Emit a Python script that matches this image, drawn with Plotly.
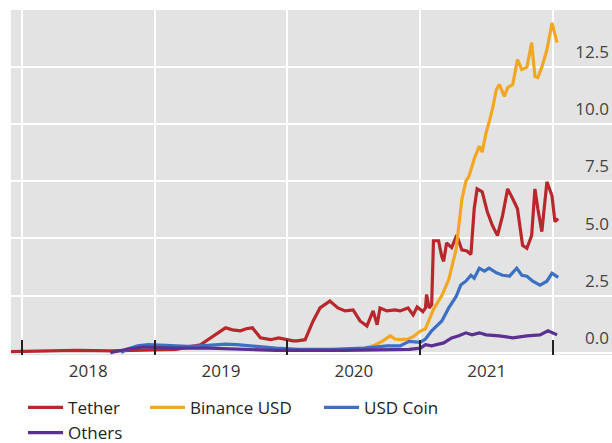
import plotly.graph_objects as go

# ---------------- data (USD bn) ----------------
tether_dates = ["2017-12-02", "2018-03-01", "2018-06-01", "2018-09-01", "2018-12-01", "2019-03-01",
                "2019-05-07", "2019-06-23", "2019-07-15", "2019-08-03", "2019-08-25", "2019-09-10",
                "2019-09-27", "2019-10-19", "2019-11-16", "2019-12-08", "2020-01-17", "2020-01-28",
                "2020-02-19", "2020-03-12", "2020-03-31", "2020-04-27", "2020-05-19", "2020-06-08",
                "2020-06-30", "2020-07-19", "2020-08-07", "2020-08-24", "2020-09-04", "2020-09-12",
                "2020-10-01", "2020-10-23", "2020-11-06", "2020-11-28", "2020-12-12", "2020-12-23",
                "2021-01-08", "2021-01-15", "2021-01-18", "2021-01-25", "2021-02-01", "2021-02-06",
                "2021-02-20", "2021-03-01", "2021-03-06", "2021-03-14", "2021-03-28", "2021-04-11",
                "2021-04-25", "2021-05-09", "2021-05-20", "2021-05-29", "2021-06-06", "2021-06-20",
                "2021-07-04", "2021-07-18", "2021-08-01", "2021-08-15", "2021-08-29", "2021-09-12",
                "2021-09-25", "2021-10-09", "2021-10-21", "2021-11-03", "2021-11-12", "2021-11-20",
                "2021-12-01", "2021-12-15", "2021-12-29", "2022-01-06", "2022-01-15"]
tether_vals = [0.05, 0.08, 0.1, 0.08, 0.1, 0.15,
               0.35, 0.87, 1.09, 1.0, 0.96, 1.05,
               1.09, 0.65, 0.57, 0.65, 0.52, 0.52,
               0.57, 1.39, 1.96, 2.26, 1.96, 1.83,
               1.87, 1.39, 1.17, 1.83, 1.22, 1.96,
               1.83, 1.87, 1.83, 1.96, 1.65, 2.0,
               1.8, 1.96, 2.55, 1.96, 2.1, 4.9,
               4.9, 4.2, 4.0, 4.8, 4.6, 5.15,
               4.5, 4.45, 4.3, 6.3, 7.17, 7.04,
               6.17, 5.57, 5.13, 6.0, 7.17, 6.74,
               6.3, 4.7, 4.57, 5.13, 7.17, 6.3,
               5.3, 7.48, 6.87, 5.74, 5.87]

binance_dates = ["2020-06-01", "2020-08-01", "2020-08-24", "2020-09-20", "2020-10-10",
                 "2020-10-23", "2020-11-06", "2020-11-28", "2020-12-12", "2021-01-01", "2021-01-15",
                 "2021-02-06", "2021-03-01", "2021-03-20", "2021-04-09", "2021-04-17", "2021-04-25",
                 "2021-05-06", "2021-05-15", "2021-05-29", "2021-06-12", "2021-06-20", "2021-07-01",
                 "2021-07-09", "2021-07-18", "2021-07-29", "2021-08-06", "2021-08-20", "2021-08-29",
                 "2021-09-12", "2021-09-25", "2021-10-07", "2021-10-21", "2021-11-03", "2021-11-12",
                 "2021-11-20", "2021-12-01", "2021-12-15", "2021-12-29", "2022-01-12"]
binance_vals = [0.15, 0.2, 0.3, 0.52, 0.74,
                0.6, 0.57, 0.6, 0.7, 0.95, 1.05,
                1.9, 2.5, 3.2, 4.5, 5.6, 6.7,
                7.5, 7.74, 8.48, 9.04, 8.78, 9.65,
                10.09, 10.65, 11.52, 11.74, 11.22, 11.6,
                11.74, 12.83, 12.39, 12.5, 13.57, 12.09,
                12.04, 12.5, 13.26, 14.43, 13.57]

usdc_dates = ["2018-10-01", "2018-10-17", "2018-11-15", "2018-12-15", "2019-01-15", "2019-02-20",
              "2019-04-01", "2019-05-07", "2019-06-15", "2019-07-15", "2019-08-15", "2019-09-15",
              "2019-10-19", "2019-12-01", "2020-02-01", "2020-05-01", "2020-08-01", "2020-10-01",
              "2020-11-06", "2020-12-01", "2021-01-01", "2021-01-15", "2021-02-01", "2021-03-01",
              "2021-03-20", "2021-04-09", "2021-04-22", "2021-05-06", "2021-05-20", "2021-05-29",
              "2021-06-12", "2021-06-26", "2021-07-09", "2021-07-29", "2021-08-15", "2021-09-03",
              "2021-09-23", "2021-10-07", "2021-10-21", "2021-11-06", "2021-11-26", "2021-12-15",
              "2021-12-29", "2022-01-15"]
usdc_vals = [0.0, 0.15, 0.3, 0.35, 0.33, 0.3,
             0.28, 0.3, 0.35, 0.38, 0.35, 0.3,
             0.25, 0.2, 0.15, 0.15, 0.2, 0.3,
             0.3, 0.5, 0.45, 0.6, 0.96, 1.39,
             1.96, 2.45, 2.96, 3.13, 3.39, 3.26,
             3.7, 3.57, 3.7, 3.5, 3.39, 3.35,
             3.7, 3.39, 3.35, 3.13, 2.96, 3.13,
             3.48, 3.3]

others_dates = ["2018-09-01", "2018-10-17", "2018-12-01", "2019-03-01", "2019-06-01", "2019-09-01",
                "2019-12-01", "2020-06-01", "2020-12-01", "2021-01-01", "2021-01-15", "2021-02-01",
                "2021-03-06", "2021-03-28", "2021-04-17", "2021-05-06", "2021-05-23", "2021-06-12",
                "2021-07-01", "2021-08-06", "2021-09-12", "2021-10-21", "2021-11-26", "2021-12-18",
                "2022-01-12"]
others_vals = [0.0, 0.15, 0.25, 0.2, 0.2, 0.15,
               0.1, 0.1, 0.15, 0.2, 0.35, 0.3,
               0.43, 0.65, 0.74, 0.87, 0.78, 0.87,
               0.78, 0.74, 0.65, 0.74, 0.78, 0.96,
               0.78]

y_ticks = [0, 2.5, 5, 7.5, 10, 12.5]

series = [
    ("Tether", tether_dates, tether_vals, "#b8272c", "legend"),
    ("Binance USD", binance_dates, binance_vals, "#f2a722", "legend2"),
    ("USD Coin", usdc_dates, usdc_vals, "#3b70c2", "legend3"),
    ("Others", others_dates, others_vals, "#5a3090", "legend4"),
]

fig = go.Figure()
for name, d, v, c, lg in series:
    fig.add_trace(go.Scatter(x=d, y=v, name=name, mode="lines", legend=lg,
                             line=dict(color=c, width=3.2)))

FONT = "Open Sans, Noto Sans, sans-serif"
leg_common = dict(orientation="h", xanchor="left", yanchor="top",
                  font=dict(size=17, color="#222222"), bgcolor="rgba(0,0,0,0)",
                  itemwidth=35)
fig.update_layout(
    width=612, height=443,
    margin=dict(l=11, r=0, t=10, b=88, autoexpand=False),
    paper_bgcolor="white",
    plot_bgcolor="#e3e3e3",
    font=dict(family=FONT, size=17, color="#333333"),
    showlegend=True,
    legend=dict(x=0.02, y=-0.101, **leg_common),
    legend2=dict(x=0.223, y=-0.101, **leg_common),
    legend3=dict(x=0.5125, y=-0.101, **leg_common),
    legend4=dict(x=0.02, y=-0.174, **leg_common),
)
fig.update_xaxes(
    range=["2017-12-02", "2022-06-12"],
    tick0="2018-01-01", dtick="M12", ticklabelmode="period", tickformat="%Y",
    showgrid=True, gridcolor="white", gridwidth=2,
    ticks="inside", ticklen=15, tickwidth=2, tickcolor="#222222",
    showline=False, zeroline=False, automargin=False,
    ticklabelstandoff=4,
)
fig.update_yaxes(
    range=[-0.1, 15.0], side="right",
    tickvals=y_ticks, tickformat=".1f",
    ticklabelposition="inside top", ticklabelshift=-3,
    showgrid=True, gridcolor="white", gridwidth=2,
    ticks="", showline=False, zeroline=False, automargin=False,
)

fig.write_html("out.html", config={"displayModeBar": False},
               post_script="document.body.style.margin='0';")
